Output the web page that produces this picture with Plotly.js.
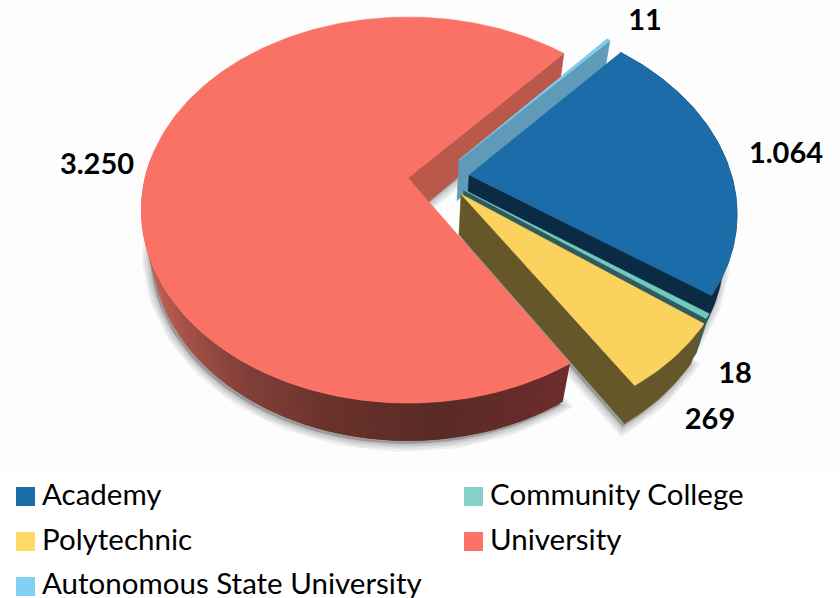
<!DOCTYPE html>
<html>
<head>
<meta charset="utf-8">
<script src="https://cdn.plot.ly/plotly-3.0.1.min.js"></script>
<style>html,body{margin:0;padding:0;background:#fff}#chart{width:840px;height:598px}</style>
</head>
<body>
<div id="chart"></div>
<script>
// Institutions by type
const categories = ['Academy', 'Community College', 'Polytechnic', 'University', 'Autonomous State University'];
const counts = [1064, 18, 269, 3250, 11];
const countLabels = ['1.064', '18', '269', '3.250', '11'];
const swatchColors = ['#1b6ca8', '#86d1c9', '#ffd966', '#fb7266', '#82d0f5'];
const topColors = ['#1b6ca8', '#72c9c0', '#fbd25d', '#fa7265', '#7fcdf0'];
const cutColors = ['#0a2b43', '#305a5c', '#65572a', '#bb584c', '#5f9bb8'];
const rimColors = ['#0a2b43', '#305a5c', '#65572a', '#6a322c', '#5f9bb8'];

// Perspective camera for a unit disc lying in the picture plane (X right, Y away, z down)
const CX = 408, CY = 178, SX = 263, SY = 187.7, PERSP = 0.166, DEPTH_W = 0.04, DEPTH_Y = 42;
function project(X, Y, z) {
  const w = 1 + PERSP * Y + DEPTH_W * z;
  return [CX + SX * X / w, CY - (SY * Y - DEPTH_Y * z) / w];
}

// Radial explosion of each slice, in disc units
const explode = [[0.233, 0.016], [0.21, -0.063], [0.199, -0.0855], [0, 0], [0.197, 0.097]];

// Clockwise sweep from the Academy start angle
const total = counts.reduce((a, b) => a + b, 0);
const START = 47.4;
let cursor = START;
const spans = counts.map(v => {
  const from = cursor, to = cursor - v / total * 360;
  cursor = to;
  return [from, to];
});

const rad = d => d * Math.PI / 180;
function rimPoint(i, deg, z) {
  const [ox, oy] = explode[i];
  return project(ox + Math.cos(rad(deg)), oy + Math.sin(rad(deg)), z);
}
function apexPoint(i, z) { return project(explode[i][0], explode[i][1], z); }
function arc(i, z) {
  const [a, b] = spans[i], n = Math.max(2, Math.ceil(Math.abs(a - b))), pts = [];
  for (let k = 0; k <= n; k++) pts.push(rimPoint(i, a + (b - a) * k / n, z));
  return pts;
}
function poly(pts, fill, lineW, lineC) {
  const closed = pts.concat([pts[0]]);
  return {
    type: 'scatter', mode: 'lines', x: closed.map(p => p[0]), y: closed.map(p => p[1]),
    fill: 'toself', fillcolor: fill, line: {color: lineC || fill, width: lineW === undefined ? 0.6 : lineW},
    hoverinfo: 'skip', showlegend: false
  };
}

// Colour ramp along the University rim, by screen x
const ramp = [[141, [196, 100, 90]], [190, [160, 79, 69]], [240, [132, 64, 58]], [330, [106, 50, 44]], [440, [90, 42, 37]], [570, [108, 44, 44]]];
function rampColor(x) {
  for (let k = 0; k < ramp.length - 1; k++) {
    if (x <= ramp[k + 1][0]) {
      const t = Math.max(0, (x - ramp[k][0]) / (ramp[k + 1][0] - ramp[k][0]));
      const c = ramp[k][1].map((v, j) => Math.round(v + (ramp[k + 1][1][j] - v) * t));
      return `rgb(${c[0]},${c[1]},${c[2]})`;
    }
  }
  return 'rgb(108,44,44)';
}

const traces = [];

// Soft drop shadow under each thick slice
const shadowSlices = [3, 0, 2];
[16, 12, 8, 5, 2].forEach(w => {
  shadowSlices.forEach(i => {
    const pts = [apexPoint(i, 1)].concat(arc(i, 1)).map(p => [p[0] - 2, p[1] + 3]);
    traces.push(poly(pts, 'rgba(60,60,60,0.07)', w, 'rgba(60,60,60,0.07)'));
  });
});

// Slices painted back to front: rim wall, visible cut face, then the top
[3, 4, 0, 1, 2].forEach(i => {
  const [a, b] = spans[i];
  if (i === 3) {
    // The long rim of the large slice shades from light to dark, left to right.
    // Front half only, in overlapping steps so no seams show.
    const n = Math.ceil(Math.abs(a - b));
    for (let k = 0; k < n; k++) {
      const d0 = a + (b - a) * k / n, d1 = a + (b - a) * Math.min(n, k + 2) / n;
      if (Math.sin(rad(d0)) > 0.1) continue;
      const q = [rimPoint(i, d0, 0), rimPoint(i, d1, 0), rimPoint(i, d1, 1), rimPoint(i, d0, 1)];
      traces.push(poly(q, rampColor(q[0][0]), 0));
    }
  } else {
    traces.push(poly(arc(i, 0).concat(arc(i, 1).reverse()), rimColors[i]));
  }
  // Cut face on the trailing edge; the thin slice shows its leading face instead
  const faceAngle = i === 4 ? a : b;
  traces.push(poly([apexPoint(i, 0), rimPoint(i, faceAngle, 0), rimPoint(i, faceAngle, 1), apexPoint(i, 1)], cutColors[i]));
  traces.push(poly([apexPoint(i, 0)].concat(arc(i, 0)), topColors[i]));
});

// Value labels
const labelX = [786, 735, 710, 97, 645];
const labelY = [156, 376, 422, 167, 23];
traces.push({
  type: 'scatter', mode: 'text', x: labelX, y: labelY, text: countLabels,
  textposition: 'middle center', textfont: {family: 'Lato, sans-serif', size: 29, color: '#000', weight: 700},
  hoverinfo: 'skip', showlegend: false
});

// Key below the pie, two columns
const keyColumn = [0, 1, 0, 1, 0], keyRow = [0, 0, 1, 1, 2];
categories.forEach((name, i) => {
  traces.push({
    type: 'scatter', mode: 'markers', name: name,
    x: [25.5 + keyColumn[i] * 448], y: [496.5 + keyRow[i] * 45],
    marker: {symbol: 'square', size: 19, color: swatchColors[i]},
    hoverinfo: 'skip', showlegend: false
  });
  traces.push({
    type: 'scatter', mode: 'text',
    x: [42 + keyColumn[i] * 448], y: [498 + keyRow[i] * 44.5],
    text: [name], textposition: 'middle right',
    textfont: {family: 'Lato, sans-serif', size: 29.5, color: '#000'},
    hoverinfo: 'skip', showlegend: false, cliponaxis: false
  });
});

const layout = {
  width: 840, height: 598, margin: {l: 0, r: 0, t: 0, b: 0},
  paper_bgcolor: '#fff', plot_bgcolor: 'rgba(0,0,0,0)', showlegend: false,
  xaxis: {range: [0, 840], visible: false, fixedrange: true},
  yaxis: {range: [598, 0], visible: false, fixedrange: true},
  shapes: [{type: 'rect', layer: 'below', xref: 'x', yref: 'y', x0: 0, x1: 840, y0: 0, y1: 473, fillcolor: '#fdfdfd', line: {width: 0}}]
};
Plotly.newPlot('chart', traces, layout, {displayModeBar: false, staticPlot: true});
</script>
</body>
</html>
